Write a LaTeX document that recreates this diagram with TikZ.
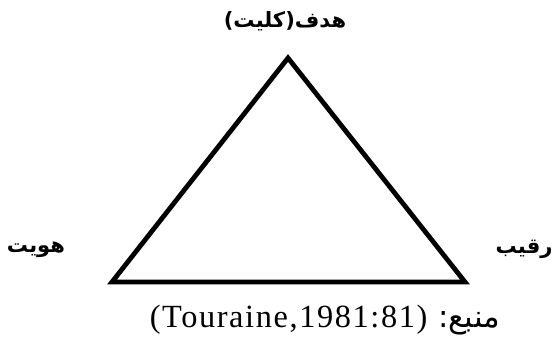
\documentclass[tikz,border=0pt]{standalone}
\usepackage{fontspec}
\setmainfont{Liberation Serif}
\newfontfamily\arabicfont[Script=Arabic]{DejaVu Sans}
\TeXXeTstate=1
\begin{document}
\begin{tikzpicture}[x=0.25mm,y=-0.25mm,
    corner/.style={font=\arabicfont\bfseries\fontsize{15}{18}\selectfont}]
  \useasboundingbox (0,0) rectangle (552,351);
  % Triangle
  \coordinate (top) at (288,58);
  \coordinate (left) at (112,282);
  \coordinate (right) at (465,282);
  \draw[line width=3.4pt,line join=miter] (top) -- (left) -- (right) -- cycle;

  % Corner labels
  \node[corner] (goal) at (285,21) {\beginR هدف(کلیت)\endR};
  \node[corner] (identity) at (36,250) {\beginR هویت\endR};
  \node[corner] (rival) at (524,249) {\beginR رقیب\endR};

  % Source
  \node (source) at (325,320) {\fontsize{23}{26}\selectfont
    \beginR{\arabicfont\fontsize{22}{26}\selectfont منبع:}
    \beginL{\addfontfeature{LetterSpace=5}(Touraine,1981:81)}\endL\endR};
\end{tikzpicture}
\end{document}
